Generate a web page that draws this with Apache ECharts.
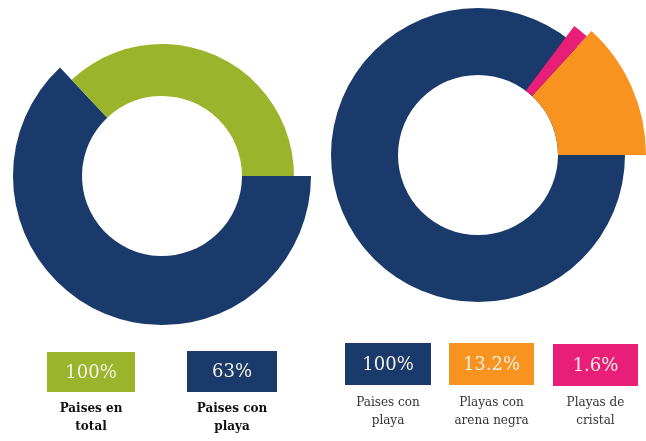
<!DOCTYPE html>
<html>
<head>
<meta charset="utf-8">
<script src="https://cdn.jsdelivr.net/npm/echarts@6/dist/echarts.min.js"></script>
<style>html,body{margin:0;padding:0;background:#fff}#c{width:646px;height:441px}</style>
</head>
<body>
<div id="c"></div>
<script>
// ---- data ----
const leftCategories = ['Paises en\ntotal', 'Paises con\nplaya'];
const leftValues = [100, 63];
const rightCategories = ['Paises con\nplaya', 'Playas con\narena negra', 'Playas de\ncristal'];
const rightValues = [100, 13.2, 1.6];
const boxLabels = ['100%', '63%', '100%', '13.2%', '1.6%'];

// ---- styles ----
const NAVY = '#193a6b', GREEN = '#9ab52b', ORANGE = '#f7931e', PINK = '#e91e78';
const T = 'rgba(0,0,0,0)';
const chart = echarts.init(document.getElementById('c'), null, {renderer: 'canvas'});

const base = {type: 'pie', silent: true, label: {show: false}, labelLine: {show: false},
  emphasis: {disabled: true}, animation: false, itemStyle: {borderWidth: 0}};

const leftRest = leftValues[0] - leftValues[1];
const rightRest = rightValues[0] - rightValues[1] - rightValues[2];

const series = [
  Object.assign({}, base, {center: [162, 176], radius: [80, 149], startAngle: 0, clockwise: true,
    data: [{value: leftValues[1], itemStyle: {color: NAVY}}, {value: leftRest, itemStyle: {color: T}}]}),
  Object.assign({}, base, {center: [162, 176], radius: [80, 132], startAngle: 0, clockwise: true,
    data: [{value: leftValues[1], itemStyle: {color: T}}, {value: leftRest, itemStyle: {color: GREEN}}]}),
  Object.assign({}, base, {center: [478, 155], radius: [80, 147], startAngle: 0, clockwise: true,
    data: [{value: rightValues[0], itemStyle: {color: NAVY}}]}),
  Object.assign({}, base, {center: [478, 155], radius: [80, 168], startAngle: 0, clockwise: false,
    data: [{value: rightValues[1], itemStyle: {color: ORANGE}}, {value: rightValues[0] - rightValues[1], itemStyle: {color: T}}]}),
  Object.assign({}, base, {center: [478, 155], radius: [80, 161], startAngle: 0, clockwise: false,
    data: [{value: rightValues[1], itemStyle: {color: T}}, {value: rightValues[2], itemStyle: {color: PINK}}, {value: rightRest, itemStyle: {color: T}}]})
];

// legend-like boxes
const boxes = [
  {x: 47, y: 352, w: 88, h: 40, color: GREEN, label: boxLabels[0], name: leftCategories[0], bold: true, ty: 400},
  {x: 187, y: 351, w: 90, h: 41, color: NAVY, label: boxLabels[1], name: leftCategories[1], bold: true, ty: 400},
  {x: 345, y: 343, w: 86, h: 42, color: NAVY, label: boxLabels[2], name: rightCategories[0], bold: false, ty: 394},
  {x: 449, y: 343, w: 85, h: 42, color: ORANGE, label: boxLabels[3], name: rightCategories[1], bold: false, ty: 394},
  {x: 553, y: 344, w: 85, h: 42, color: PINK, label: boxLabels[4], name: rightCategories[2], bold: false, ty: 394}
];
const graphic = [];
boxes.forEach(b => {
  graphic.push({type: 'rect', shape: {x: b.x, y: b.y, width: b.w, height: b.h}, style: {fill: b.color}, silent: true});
  graphic.push({type: 'text', x: b.x + b.w / 2, y: b.y + b.h / 2 + 1, silent: true,
    style: {text: b.label, fill: '#f4f1e4', font: '18px "DejaVu Serif"', align: 'center', verticalAlign: 'middle'}});
  graphic.push({type: 'text', x: b.x + b.w / 2, y: b.ty, silent: true,
    style: {text: b.name, fill: b.bold ? '#111' : '#333', font: (b.bold ? 'bold ' : '') + '12px "DejaVu Serif"',
      align: 'center', verticalAlign: 'top', lineHeight: 18}});
});

chart.setOption({backgroundColor: '#fff', animation: false, series: series, graphic: graphic});
</script>
</body>
</html>
